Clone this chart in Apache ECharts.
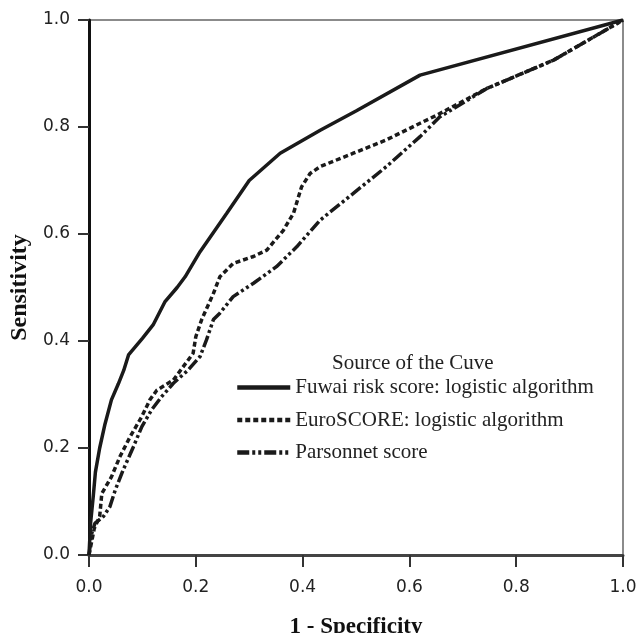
<!DOCTYPE html>
<html>
<head>
<meta charset="utf-8">
<script src="https://cdn.jsdelivr.net/npm/echarts@6/dist/echarts.min.js"></script>
<style>
	html, body { margin: 0; padding: 0; background: #fff; }
	#chart { width: 639px; height: 633px; }
</style>
</head>
<body>
<div id="chart"></div>
<script>
const seriesNames = [
	'Fuwai risk score: logistic algorithm',
	'EuroSCORE: logistic algorithm',
	'Parsonnet score'
];

// [1 - specificity, sensitivity]
const fuwai = [
	[0, 0], [0.003, 0.06], [0.008, 0.11], [0.012, 0.155], [0.02, 0.2], [0.03, 0.245],
	[0.042, 0.29], [0.055, 0.32], [0.065, 0.345], [0.074, 0.374], [0.1, 0.405],
	[0.12, 0.43], [0.142, 0.473], [0.165, 0.5], [0.18, 0.52], [0.208, 0.567],
	[0.258, 0.639], [0.3, 0.7], [0.358, 0.751], [0.433, 0.794], [0.5, 0.83],
	[0.62, 0.897], [1, 1]
];

const euro = [
	[0, 0], [0.01, 0.05], [0.02, 0.072], [0.024, 0.115], [0.042, 0.146], [0.058, 0.184],
	[0.077, 0.221], [0.099, 0.259], [0.114, 0.29], [0.127, 0.308], [0.158, 0.327],
	[0.195, 0.377], [0.2, 0.408], [0.211, 0.44], [0.233, 0.489], [0.245, 0.52],
	[0.27, 0.545], [0.308, 0.558], [0.333, 0.57], [0.364, 0.607], [0.383, 0.639],
	[0.398, 0.688], [0.414, 0.713], [0.433, 0.726], [0.495, 0.751], [0.557, 0.776],
	[0.62, 0.807], [0.651, 0.822], [0.745, 0.872], [0.87, 0.925], [1, 1]
];

const parsonnet = [
	[0, 0], [0.005, 0.04], [0.011, 0.059], [0.027, 0.072], [0.039, 0.09], [0.049, 0.121],
	[0.064, 0.159], [0.083, 0.202], [0.099, 0.24], [0.117, 0.271], [0.136, 0.296],
	[0.158, 0.321], [0.185, 0.345], [0.208, 0.371], [0.22, 0.402], [0.233, 0.44],
	[0.245, 0.452], [0.27, 0.483], [0.308, 0.508], [0.351, 0.539], [0.389, 0.576],
	[0.433, 0.626], [0.495, 0.676], [0.557, 0.726], [0.62, 0.782], [0.657, 0.819],
	[0.745, 0.872], [0.87, 0.925], [1, 1]
];

const chart = echarts.init(document.querySelector('#chart'));

const ink = '#1a1a1a';
const labelFont = { fontFamily: 'DejaVu Sans', fontSize: 17, color: '#222' };
const nameFont = { fontFamily: 'Liberation Serif', fontWeight: 'bold', color: '#111' };

function lineSeries(name, data, type) {
	return {
		name,
		type: 'line',
		data,
		symbol: 'none',
		smooth: false,
		lineStyle: { color: ink, width: 3.5, type },
		itemStyle: { color: ink },
		z: 3
	};
}

chart.setOption({
	animation: false,
	title: {
		text: 'Source of the Cuve',
		left: 327,
		top: 348,
		textStyle: { fontFamily: 'Liberation Serif', fontSize: 21, fontWeight: 'normal', color: '#222' }
	},
	legend: {
		orient: 'vertical',
		left: 235,
		top: 377,
		padding: 0,
		itemWidth: 53,
		itemHeight: 14,
		itemGap: 11.5,
		itemStyle: { color: 'rgba(0,0,0,0)', borderWidth: 0 },
		lineStyle: { width: 4.5 },
		textStyle: { fontFamily: 'Liberation Serif', fontSize: 21, color: '#222' },
		data: seriesNames
	},
	grid: {
		left: 89,
		right: 16,
		top: 20,
		bottom: 78,
		outerBoundsMode: 'none',
		show: true,
		borderColor: '#666',
		borderWidth: 1.5
	},
	xAxis: {
		type: 'value',
		min: 0,
		max: 1,
		interval: 0.2,
		name: '1 - Specificity',
		nameLocation: 'middle',
		nameGap: 61,
		nameTextStyle: Object.assign({ fontSize: 23 }, nameFont),
		axisLine: { show: true, lineStyle: { color: '#444', width: 3 } },
		axisTick: { show: true, length: 12, lineStyle: { color: '#333', width: 2 } },
		axisLabel: Object.assign({ margin: 24, formatter: v => v.toFixed(1) }, labelFont),
		splitLine: { show: false }
	},
	yAxis: {
		type: 'value',
		min: 0,
		max: 1,
		interval: 0.2,
		name: 'Sensitivity',
		nameLocation: 'middle',
		nameGap: 54,
		nameTextStyle: Object.assign({ fontSize: 24 }, nameFont),
		axisLine: { show: true, lineStyle: { color: '#111', width: 3 } },
		axisTick: { show: true, length: 11, lineStyle: { color: '#333', width: 2 } },
		axisLabel: Object.assign({ margin: 19, formatter: v => v.toFixed(1) }, labelFont),
		splitLine: { show: false }
	},
	series: [
		lineSeries(seriesNames[0], fuwai, 'solid'),
		lineSeries(seriesNames[1], euro, [5, 3]),
		lineSeries(seriesNames[2], parsonnet, [12, 3, 3, 3, 3, 3])
	]
});
</script>
</body>
</html>
